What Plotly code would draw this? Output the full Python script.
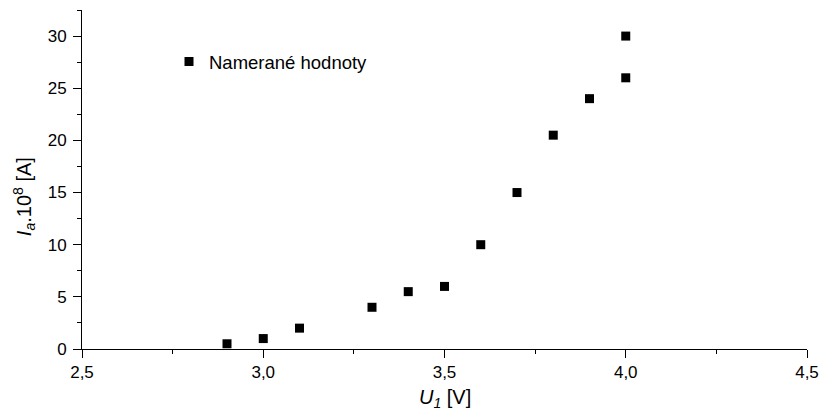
import plotly.graph_objects as go

U1 = [2.9, 3.0, 3.1, 3.3, 3.4, 3.5, 3.6, 3.7, 3.8, 3.9, 4.0, 4.0]
Ia = [0.5, 1.0, 2.0, 4.0, 5.5, 6.0, 10.0, 15.0, 20.5, 24.0, 26.0, 30.0]
x_ticks = [2.5, 3.0, 3.5, 4.0, 4.5]
x_tick_labels = ["2,5", "3,0", "3,5", "4,0", "4,5"]
y_ticks = [0, 5, 10, 15, 20, 25, 30]

FONT = "Liberation Sans, Arial"

fig = go.Figure()
fig.add_trace(go.Scatter(
    x=U1, y=Ia, mode="markers", name="Namerané hodnoty",
    marker=dict(symbol="square", size=9, color="black", line=dict(width=0)),
    cliponaxis=False,
))

axis_common = dict(
    showline=True, linecolor="black", linewidth=1,
    ticks="outside", ticklen=8, tickcolor="black", tickwidth=1,
    showgrid=False, zeroline=False, mirror=False, automargin=False,
    tickfont=dict(family=FONT, size=17, color="black"),
)

fig.update_xaxes(
    range=[2.5, 4.5], tickvals=x_ticks, ticktext=x_tick_labels,
    minor=dict(ticks="outside", ticklen=4, tickcolor="black", dtick=0.25, tick0=2.5),
    **axis_common,
)
fig.update_yaxes(
    range=[0, 32.5], tickvals=y_ticks, ticklabelstandoff=3,
    minor=dict(ticks="outside", ticklen=4, tickcolor="black", dtick=2.5, tick0=0),
    **axis_common,
)

title_font = dict(family=FONT, size=20, color="black")
fig.add_annotation(
    text="<i>U</i><sub><i>1</i></sub> [V]", xref="paper", yref="paper",
    x=0.5, y=-0.145, xanchor="center", yanchor="middle",
    showarrow=False, font=title_font,
)
fig.add_annotation(
    text="<i>I</i><sub><i>a</i></sub>.10<sup>8</sup> [A]", xref="paper", yref="paper",
    x=-0.08, y=0.448, xanchor="center", yanchor="middle", textangle=-90,
    showarrow=False, font=title_font,
)

fig.update_layout(
    width=822, height=418,
    margin=dict(l=82, r=15, t=10, b=69),
    plot_bgcolor="white", paper_bgcolor="white",
    showlegend=True,
    legend=dict(x=0.12, y=0.847, xanchor="left", yanchor="middle",
                bgcolor="rgba(0,0,0,0)",
                font=dict(family=FONT, size=18.5, color="black")),
)

fig.write_html("out.html", config={"displayModeBar": False},
               post_script="document.body.style.margin='0px';")
